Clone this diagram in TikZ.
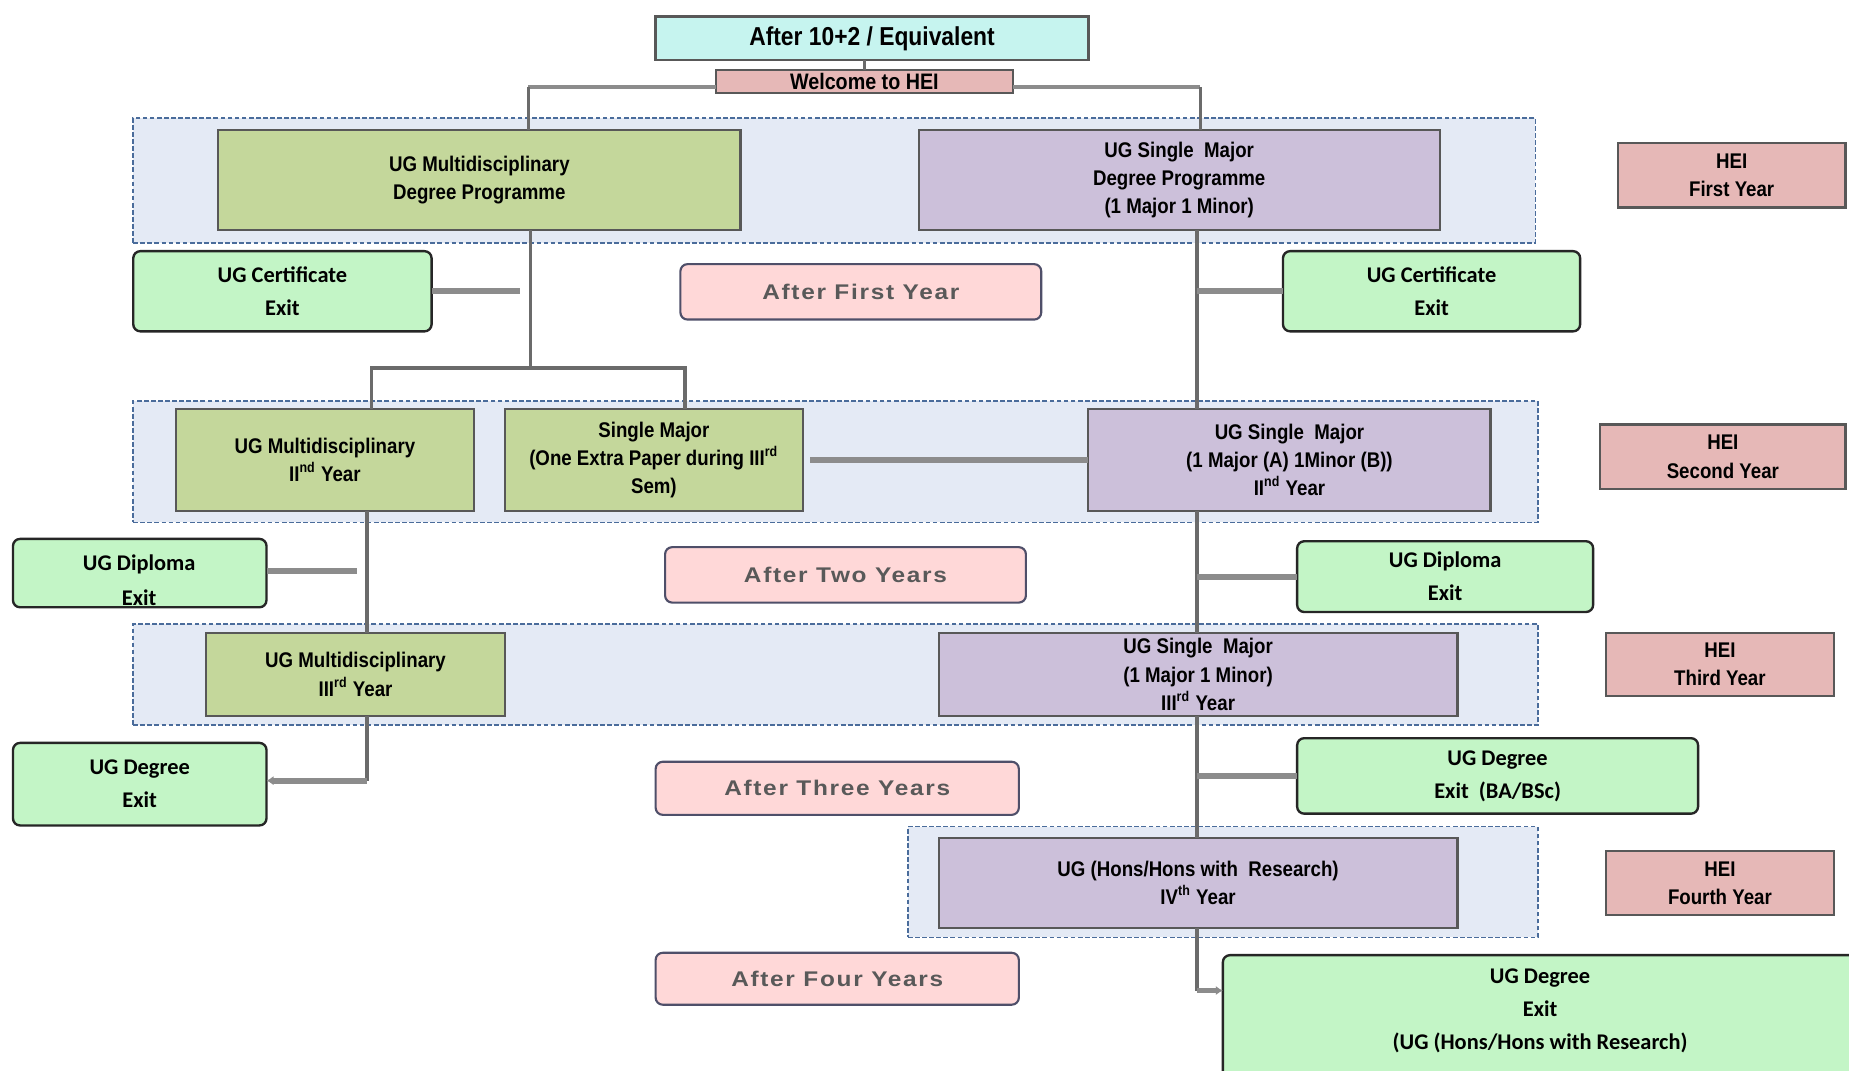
\documentclass[tikz,border=0pt]{standalone}
\usepackage{fontspec}
\setmainfont{Liberation Sans}
\newfontfamily\nfont[FakeStretch=0.88]{Liberation Sans}
\newfontfamily\cfont{Carlito}
\newfontfamily\afont[FakeStretch=1.15,LetterSpace=8]{Liberation Sans}
\usetikzlibrary{arrows.meta}
\definecolor{cyanbox}{HTML}{C6F4EF}
\definecolor{pinkbox}{HTML}{E6B8B7}
\definecolor{olivebox}{HTML}{C4D79B}
\definecolor{lavbox}{HTML}{CCC0DA}
\definecolor{groupbg}{HTML}{E4EAF5}
\definecolor{groupln}{HTML}{4A6C9B}
\definecolor{greenbox}{HTML}{C3F5C6}
\definecolor{afterbox}{HTML}{FFD8D8}
\definecolor{aftertext}{HTML}{595959}
\definecolor{boxln}{HTML}{585858}
\definecolor{connln}{HTML}{6B6B6B}
\definecolor{exitln}{HTML}{8C8C8C}
\newcommand\bx[7]{\node[#6, minimum width={(#4-#2)*0.5pt}, minimum height={(#5-#3)*0.5pt}] (#1) at ({(#2+#4)/2},{(#3+#5)/2}) {#7};}
\begin{document}
\begin{tikzpicture}[x=0.5pt,y=-0.5pt,
  every node/.style={inner sep=0pt, outer sep=0pt, align=center},
  mainfont/.style={font=\nfont\bfseries\fontsize{9}{12}\selectfont},
  plainbox/.style={mainfont, draw=boxln, line width=0.9pt},
  topbox/.style={plainbox, fill=cyanbox, line width=1.1pt, font=\nfont\bfseries\fontsize{11}{13}\selectfont},
  welcbox/.style={plainbox, fill=pinkbox, font=\nfont\bfseries\fontsize{9.5}{11}\selectfont},
  hebox/.style={plainbox, fill=pinkbox},
  olive/.style={plainbox, fill=olivebox},
  lav/.style={plainbox, fill=lavbox},
  grp/.style={fill=groupbg, draw=groupln, line width=0.7pt, dash pattern=on 2pt off 1pt},
  exitfont/.style={font=\cfont\bfseries\fontsize{9.5}{14}\selectfont},
  exitbox/.style={exitfont, fill=greenbox, draw=black!85, line width=1pt, rounded corners=3pt},
  afterb/.style={fill=afterbox, draw=boxln!90!blue, line width=0.9pt, rounded corners=3pt, text=aftertext, font=\afont\bfseries\fontsize{9}{11}\selectfont},
  conn/.style={draw=connln, line width=1.5pt},
  exitconn/.style={draw=exitln, line width=2.5pt}
]
\useasboundingbox (0,0) rectangle (1568,908);
\fill[white] (0,0) rectangle (1568,908);

% groups
\bx{g1}{113}{100}{1302}{206}{grp}{}
\bx{g2}{113}{340}{1304}{443}{grp}{}
\bx{g3}{113}{529}{1304}{615}{grp}{}
\bx{g4}{770}{701}{1304}{795}{grp}{}

% top
\bx{top}{556}{14}{923}{51}{topbox}{After 10+2 / Equivalent}
\bx{welc}{607}{59}{859}{79}{welcbox}{Welcome to HEI}

% year 1
\bx{m1}{185}{110}{628}{195}{olive}{UG Multidisciplinary\\Degree Programme}
\bx{s1}{779}{110}{1221}{195}{lav}{UG Single\ \ Major\\Degree Programme\\(1 Major 1 Minor)}
\bx{h1}{1372}{121}{1565}{176}{hebox}{HEI\\First Year}
\bx{c1l}{113}{213}{366}{281}{exitbox}{UG Certificate\\Exit}
\bx{af1}{577}{224}{883}{271}{afterb}{After First Year}
\bx{c1r}{1088}{213}{1340}{281}{exitbox}{UG Certificate\\Exit}

% year 2
\bx{m2}{149}{347}{402}{433}{olive}{UG Multidisciplinary\\II\textsuperscript{nd} Year}
\bx{sm2}{428}{347}{681}{433}{olive}{Single Major\\(One Extra Paper during III\textsuperscript{rd}\\Sem)}
\bx{s2}{923}{347}{1264}{433}{lav}{UG Single\ \ Major\\(1 Major (A) 1Minor (B))\\II\textsuperscript{nd} Year}
\bx{h2}{1357}{360}{1565}{415}{hebox}{HEI\\Second Year}
\bx{d2l}{11}{457}{226}{515}{exitbox}{}
\node[exitfont] (d2lt) at (118,492) {UG Diploma\\[1pt]Exit};
\bx{af2}{564}{464}{870}{511}{afterb}{After Two Years}
\bx{d2r}{1100}{459}{1351}{519}{exitbox}{UG Diploma\\Exit}

% year 3
\bx{m3}{175}{537}{428}{607}{olive}{UG Multidisciplinary\\III\textsuperscript{rd} Year}
\bx{s3}{796}{537}{1236}{607}{lav}{UG Single\ \ Major\\(1 Major 1 Minor)\\III\textsuperscript{rd} Year}
\bx{h3}{1362}{537}{1555}{590}{hebox}{HEI\\Third Year}
\bx{dg3l}{11}{630}{226}{700}{exitbox}{UG Degree\\Exit}
\bx{af3}{556}{646}{864}{691}{afterb}{After Three Years}
\bx{dg3r}{1100}{626}{1440}{690}{exitbox}{UG Degree\\Exit\ \ (BA/BSc)}

% year 4
\bx{s4}{796}{711}{1236}{787}{lav}{UG (Hons/Hons with\ \ Research)\\IV\textsuperscript{th} Year}
\bx{h4}{1362}{722}{1555}{776}{hebox}{HEI\\Fourth Year}
\bx{af4}{556}{808}{864}{852}{afterb}{After Four Years}
\bx{dg4}{1037}{810}{1580}{930}{exitbox}{}
\node[exitfont] (dg4t) at (1306,857) {UG Degree\\Exit\\(UG (Hons/Hons with Research)};

% junction coordinates
\coordinate (j1) at (448,74);
\coordinate (j2) at (1018,74);
\coordinate (j3) at (450,312);
\coordinate (j4) at (315,312);
\coordinate (j5) at (581,312);
\coordinate (vx) at (1015,0);
\coordinate (vl) at (311,0);
\coordinate (e1) at (441,247);
\coordinate (e2) at (303,484);
\coordinate (j7) at (1015,840);
\coordinate (j8) at (311,662);

% connectors
\draw[conn] (top.south -| welc.north) -- (welc.north);
\draw[conn, draw=exitln] ([yshift=-2.5pt]welc.west) -- (j1);
\draw[conn, draw=exitln] ([yshift=-2.5pt]welc.east) -- (j2);
\draw[conn] (j1) -- (j1 |- m1.north);
\draw[conn] (j2) -- (j2 |- s1.north);
\draw[conn] (j3 |- m1.south) -- (j3);
\draw[conn] (j4 |- m2.north) -- (j4) -- (j5) -- (j5 |- sm2.north);
\draw[exitconn] (c1l.east) -- (e1);
\draw[conn] (s1.south -| vx) -- (s2.north -| vx);
\draw[exitconn] (c1r.west -| vx) -- (c1r.west);
\draw[exitconn] ([xshift=3pt]sm2.east) -- (s2.west);
\draw[conn] (m2.south -| vl) -- (m3.north -| vl);
\draw[exitconn] (d2l.east |- e2) -- (e2);
\draw[conn] (s2.south -| vx) -- (s3.north -| vx);
\draw[exitconn] (d2r.west -| vx) -- (d2r.west);
\draw[conn] (m3.south -| vl) -- (j8);
\draw[exitconn, -{Latex[length=3pt,width=4pt]}] (j8) -- (j8 -| dg3l.east);
\draw[conn] (s3.south -| vx) -- (s4.north -| vx);
\draw[exitconn] (dg3r.west -| vx) -- (dg3r.west);
\draw[conn] (s4.south -| vx) -- (j7);
\draw[exitconn, -{Latex[length=3pt,width=4pt]}] (j7) -- (j7 -| dg4.west);
\end{tikzpicture}
\end{document}
